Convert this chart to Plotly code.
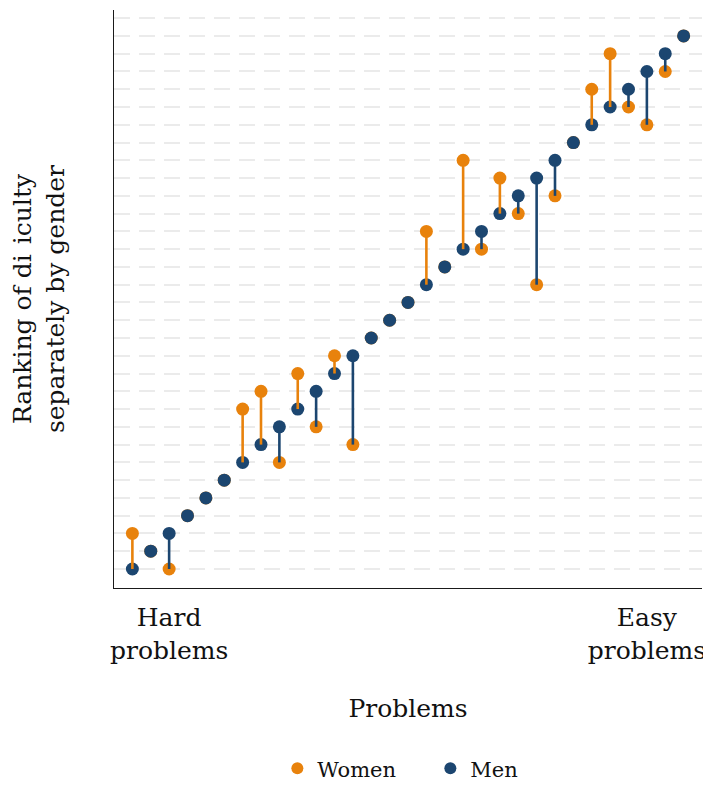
import plotly.graph_objects as go

# ---- data ----
problems = list(range(1, 32))
men_rank = list(range(1, 32))
women_rank = [3, 2, 1, 4, 5, 6, 10, 11, 7, 12, 9, 13, 8, 14, 15, 16,
              20, 18, 24, 19, 23, 21, 17, 22, 25, 28, 30, 27, 26, 29, 31]
rank_gridlines = list(range(1, 33))
x_tick_positions = [3, 29]
x_tick_labels = ["Hard<br>problems", "Easy<br>problems"]

ORANGE = "#E8820C"
NAVY = "#1C4670"
FONT = "DejaVu Serif"

# segments split by which group ranks the problem higher
ox, oy, nx, ny = [], [], [], []
for p, m, w in zip(problems, men_rank, women_rank):
    if w > m:
        ox += [p, p, None]; oy += [m, w, None]
    elif m > w:
        nx += [p, p, None]; ny += [w, m, None]

fig = go.Figure()
fig.add_trace(go.Scatter(x=problems, y=women_rank, mode="markers", name="Women",
                         marker=dict(color=ORANGE, size=13)))
fig.add_trace(go.Scatter(x=problems, y=men_rank, mode="markers", name="Men",
                         marker=dict(color=NAVY, size=13)))
fig.add_trace(go.Scatter(x=ox, y=oy, mode="lines", showlegend=False, hoverinfo="skip",
                         line=dict(color=ORANGE, width=2.6)))
fig.add_trace(go.Scatter(x=nx, y=ny, mode="lines", showlegend=False, hoverinfo="skip",
                         line=dict(color=NAVY, width=2.6)))

# the page body adds an 8px margin, so the figure is offset by 8px in the window
fig.update_layout(
    width=703, height=781,
    margin=dict(l=106, r=9, t=2, b=201),
    plot_bgcolor="white", paper_bgcolor="white",
    font=dict(family=FONT, size=25, color="#111111"),
    legend=dict(orientation="h", x=0.538, xanchor="center",
                yref="container", y=0.026, yanchor="middle",
                font=dict(size=21), itemsizing="constant",
                entrywidth=108, entrywidthmode="pixels"),
    xaxis=dict(range=[0, 32], showgrid=False, zeroline=False, automargin=False,
               showline=True, linecolor="#1a1a1a", linewidth=1.4,
               tickvals=x_tick_positions, ticktext=x_tick_labels, ticks="",
               ticklabelstandoff=7,
               title=dict(text="Problems", standoff=35, font=dict(size=25))),
    yaxis=dict(range=[-0.07, 32.46], showgrid=True, gridcolor="#EBEBEB", gridwidth=2,
               griddash="16px,9px", tickmode="array", tickvals=rank_gridlines,
               zeroline=False, automargin=False,
               showline=True, linecolor="#1a1a1a", linewidth=1.4,
               showticklabels=False, ticks="",
               title=dict(text="Ranking of di\u2009\u2009iculty<br>separately by gender",
                          standoff=44, font=dict(size=25))),
)

fig.write_html("out.html")
